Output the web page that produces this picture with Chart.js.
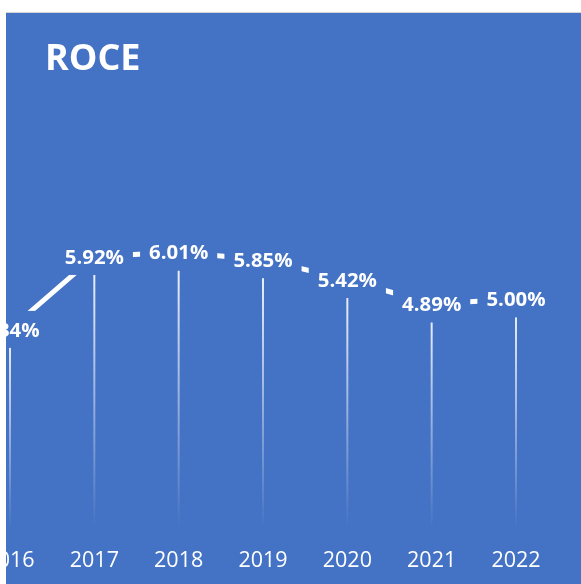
<!DOCTYPE html>
<html><head><meta charset="utf-8">
<script src="https://cdn.jsdelivr.net/npm/chart.js@4"></script>
<style>
html,body{margin:0;padding:0;background:#fff;width:581px;height:584px;overflow:hidden}
#frame{position:absolute;left:6px;top:12px;width:575px;height:572px;background:#4472C4;border-top:1px solid #d4d4d4;box-sizing:border-box;overflow:hidden}
#title{position:absolute;left:39px;top:25.7px;margin:0;font:700 36px/36px "Open Sans",sans-serif;color:#fff;white-space:nowrap}
#wrap{position:absolute;left:-50px;top:0;width:625px;height:571px}
</style></head>
<body>
<div id="frame">
  <div id="wrap"><canvas id="c"></canvas></div>
  <h1 id="title">ROCE</h1>
</div>
<script>
const years = ['2016', '2017', '2018', '2019', '2020', '2021', '2022'];
const roce = [4.34, 5.92, 6.01, 5.85, 5.42, 4.89, 5.00];
const roceLabels = ['4.34%', '5.92%', '6.01%', '5.85%', '5.42%', '4.89%', '5.00%'];

const BLUE = '#4472C4';

const dropAndLabels = {
  id: 'dropAndLabels',
  beforeDatasetsDraw(chart) {
    const ctx = chart.ctx;
    const meta = chart.getDatasetMeta(0);
    const bottom = chart.chartArea.bottom;
    ctx.save();
    meta.data.forEach(pt => {
      const g = ctx.createLinearGradient(0, pt.y, 0, bottom);
      g.addColorStop(0, 'rgba(255,255,255,0.95)');
      g.addColorStop(1, 'rgba(255,255,255,0)');
      ctx.strokeStyle = g;
      ctx.lineWidth = 2;
      ctx.beginPath();
      ctx.moveTo(pt.x, pt.y);
      ctx.lineTo(pt.x, bottom);
      ctx.stroke();
    });
    ctx.restore();
  },
  afterDatasetsDraw(chart) {
    const ctx = chart.ctx;
    const meta = chart.getDatasetMeta(0);
    ctx.save();
    ctx.font = 'bold 20.4px "Open Sans"';
    ctx.textAlign = 'center';
    ctx.textBaseline = 'alphabetic';
    meta.data.forEach((pt, i) => {
      const txt = roceLabels[i];
      const w = ctx.measureText(txt).width;
      ctx.fillStyle = BLUE;
      ctx.fillRect(pt.x - w / 2 - 9, pt.y - 18.5, w + 18, 37);
      ctx.fillStyle = '#fff';
      ctx.fillText(txt, pt.x, pt.y + 7.2);
    });
    ctx.restore();
  }
};

new Chart(document.getElementById('c'), {
  type: 'line',
  data: {
    labels: years,
    datasets: [{
      data: roce,
      borderColor: '#fff',
      borderWidth: 5,
      pointRadius: 0,
      tension: 0,
      fill: false
    }]
  },
  options: {
    responsive: true,
    maintainAspectRatio: false,
    animation: false,
    layout: { padding: { left: 54, right: 65, top: 193.6, bottom: 0 } },
    plugins: { legend: { display: false }, tooltip: { enabled: false }, title: { display: false } },
    scales: {
      x: {
        grid: { display: false, drawTicks: false },
        border: { display: false },
        ticks: { color: '#fff', font: { family: 'Open Sans', size: 21.5 }, padding: 18, maxRotation: 0, autoSkip: false },
        afterFit(scale) { scale.height = 54.3; }
      },
      y: { display: false, min: 0, max: 7 }
    }
  },
  plugins: [dropAndLabels]
});
</script>
</body></html>
